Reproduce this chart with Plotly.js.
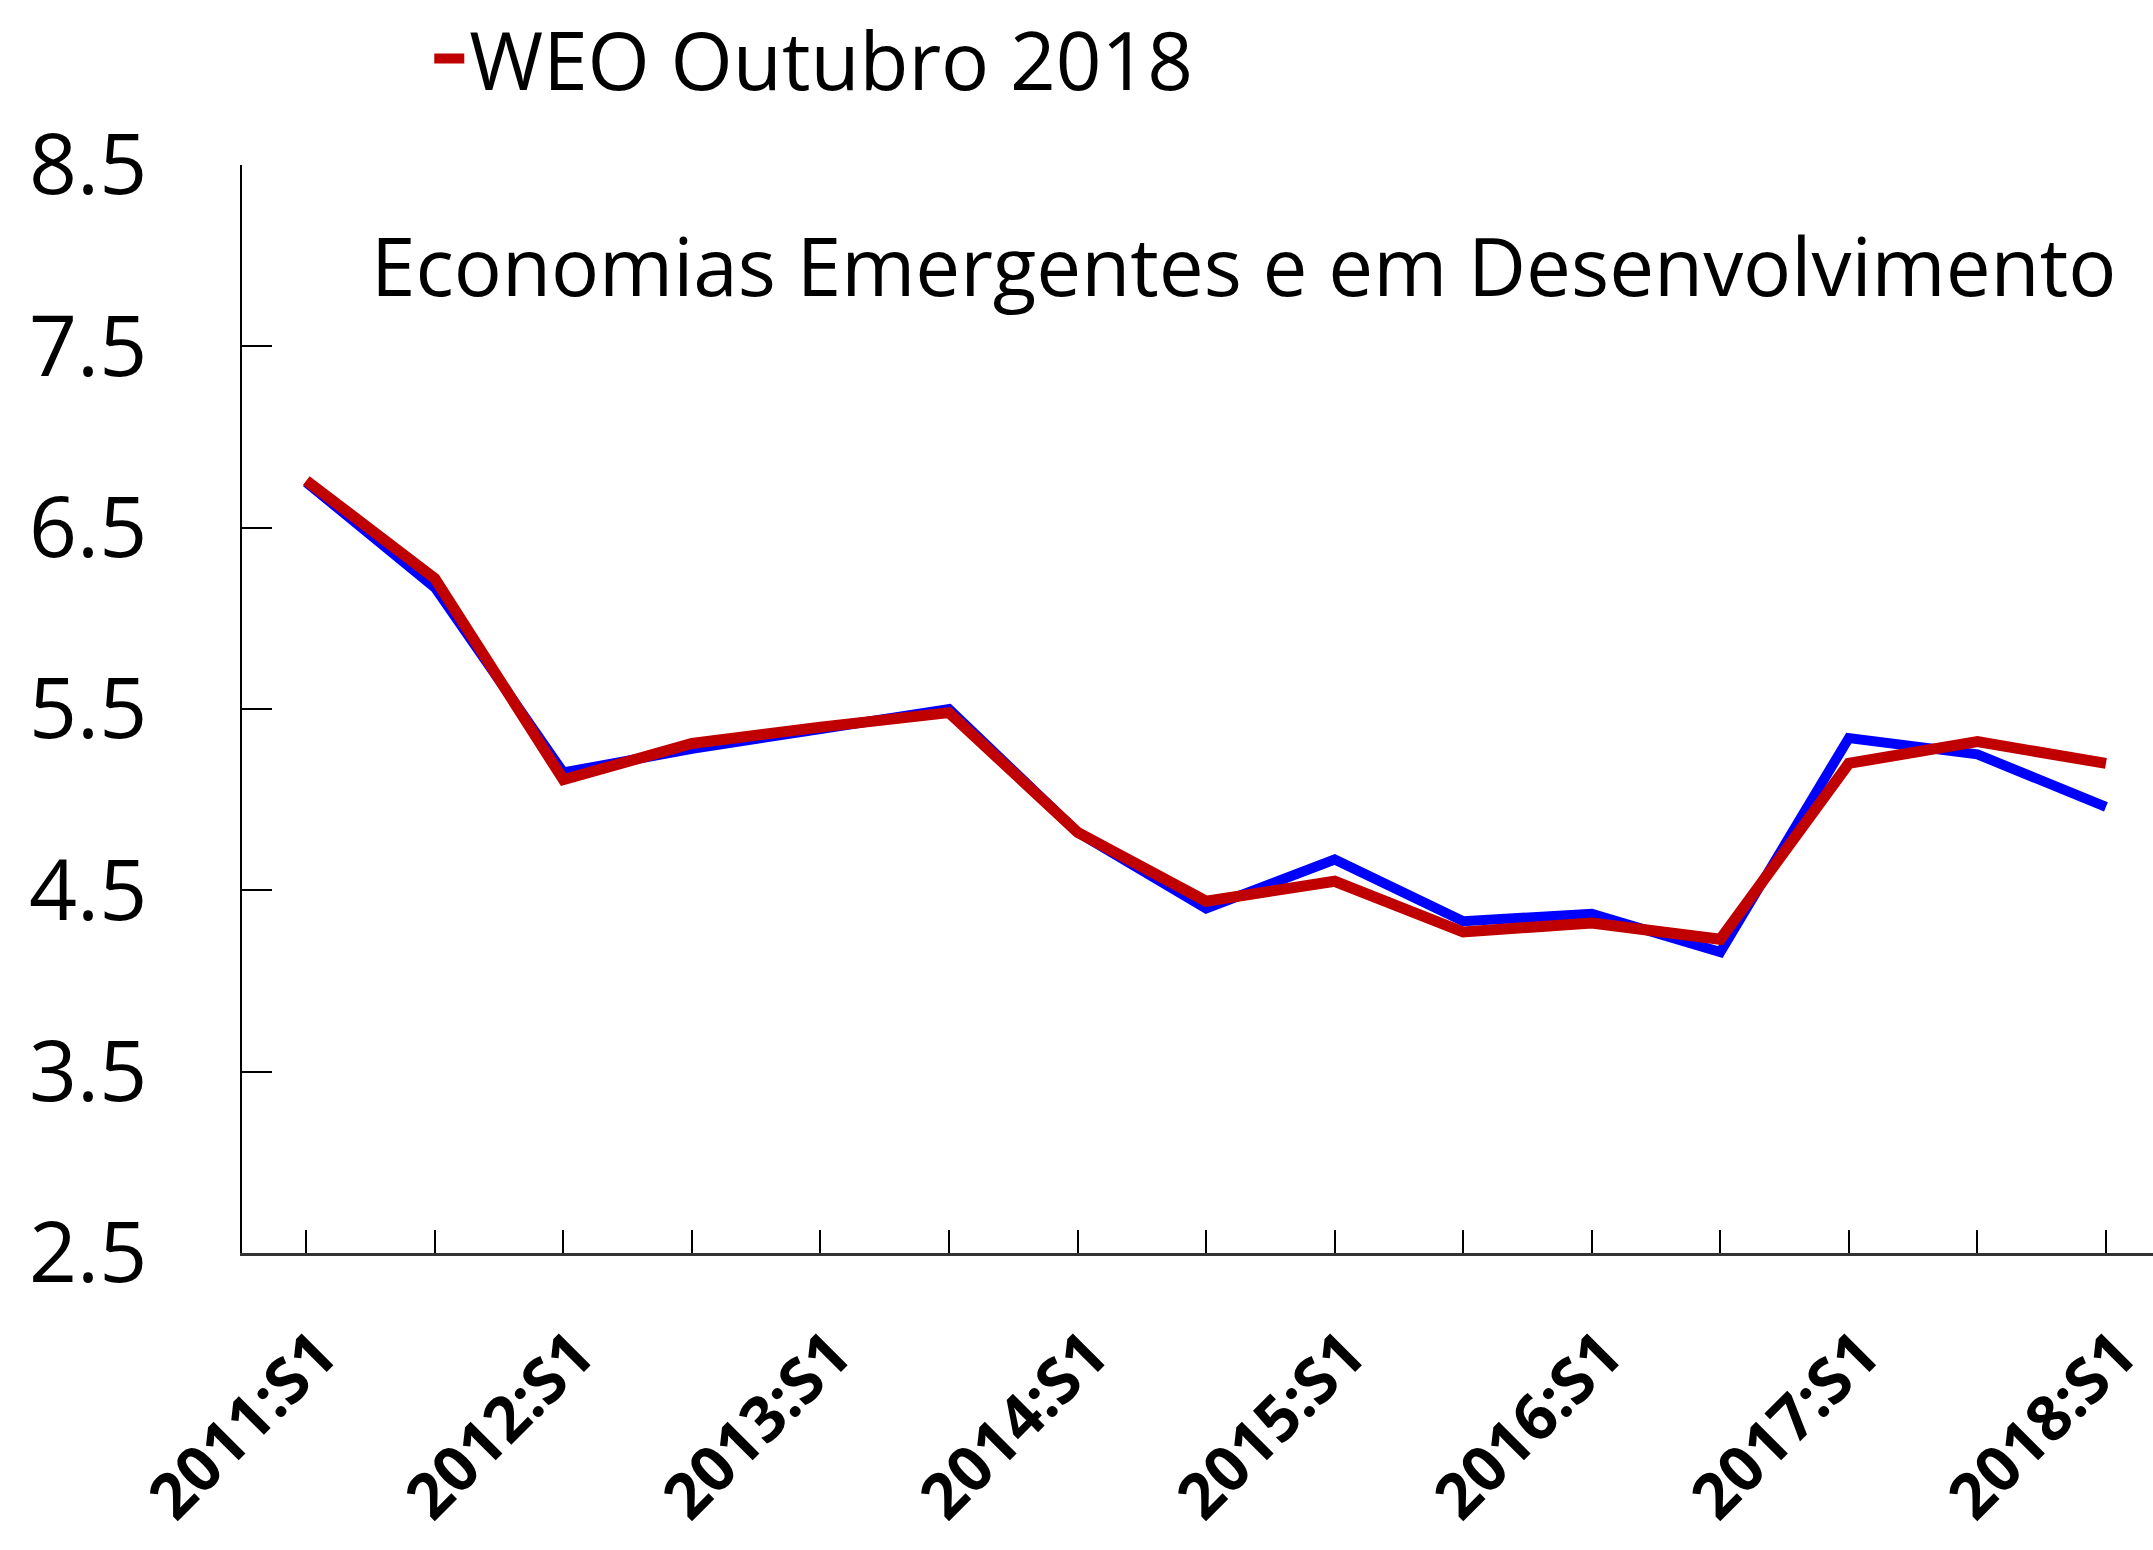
<!DOCTYPE html>
<html>
<head>
<meta charset="utf-8">
<script src="https://cdn.plot.ly/plotly-3.0.1.min.js"></script>
<style>
  html, body { margin: 0; padding: 0; background: #ffffff; }
  #chart { width: 2153px; height: 1550px; }
</style>
</head>
<body>
<div id="chart"></div>
<script>
// Semiannual periods
const categories = [
  "2011:S1", "2011:S2", "2012:S1", "2012:S2", "2013:S1", "2013:S2",
  "2014:S1", "2014:S2", "2015:S1", "2015:S2", "2016:S1", "2016:S2",
  "2017:S1", "2017:S2", "2018:S1"
];
// Tick labels (every other period is labelled)
const tickLabels = [
  "2011:S1", "", "2012:S1", "", "2013:S1", "",
  "2014:S1", "", "2015:S1", "", "2016:S1", "",
  "2017:S1", "", "2018:S1"
];
// Earlier vintage (blue)
const seriesBlue = [6.75, 6.17, 5.15, 5.28, 5.39, 5.50, 4.82, 4.40, 4.67, 4.33, 4.37, 4.16, 5.34, 5.25, 4.96];
// WEO Outubro 2018 (red)
const seriesRed = [6.76, 6.22, 5.11, 5.31, 5.40, 5.48, 4.82, 4.44, 4.55, 4.27, 4.32, 4.23, 5.20, 5.32, 5.20];
const redName = "WEO Outubro 2018";
const chartTitle = "Economias Emergentes e em Desenvolvimento";
const yTicks = [2.5, 3.5, 4.5, 5.5, 6.5, 7.5, 8.5];

const FONT = "'Open Sans', 'Noto Sans', sans-serif";

const traces = [
  {
    x: categories, y: seriesBlue, type: "scatter", mode: "lines",
    name: "Outra série", showlegend: false,
    line: { color: "#0000FF", width: 10 }
  },
  {
    x: categories, y: seriesRed, type: "scatter", mode: "lines",
    name: redName, showlegend: true,
    line: { color: "#C00000", width: 11 }
  }
];

const layout = {
  width: 2153, height: 1550,
  paper_bgcolor: "#ffffff", plot_bgcolor: "#ffffff",
  margin: { l: 242, r: 0, t: 165, b: 297, pad: 0 },
  font: { family: FONT, color: "#000000" },
  showlegend: true,
  legend: {
    x: 0.098, xanchor: "left",
    y: 1.098, yanchor: "middle",
    orientation: "h",
    font: { family: FONT, size: 80, color: "#000000" },
    bgcolor: "rgba(0,0,0,0)",
    borderwidth: 0
  },
  xaxis: {
    type: "category",
    range: [-0.5, 14.366],
    tickmode: "array",
    tickvals: categories,
    ticktext: tickLabels,
    tickangle: -45,
    ticks: "inside", ticklen: 23, tickwidth: 2, tickcolor: "#000000",
    showline: true, linecolor: "#333333", linewidth: 3,
    showgrid: false, zeroline: false,
    tickfont: { family: FONT, size: 63, color: "#000000", weight: "bold" },
    ticklabelstandoff: 36,
    ticklabelshift: 12,
    fixedrange: true
  },
  yaxis: {
    range: [2.5, 8.5],
    tickmode: "array",
    tickvals: yTicks,
    ticktext: yTicks.map(v => v.toFixed(1)),
    ticks: "inside", ticklen: 30, tickwidth: 2, tickcolor: "#000000",
    showline: true, linecolor: "#000000", linewidth: 2,
    showgrid: false, zeroline: false,
    tickfont: { family: FONT, size: 84, color: "#000000" },
    ticklabelstandoff: 76,
    fixedrange: true
  },
  annotations: [
    {
      text: chartTitle,
      xref: "paper", yref: "paper",
      x: 0.0665, xanchor: "left",
      y: 0.909, yanchor: "middle",
      showarrow: false,
      font: { family: FONT, size: 80, color: "#000000" }
    }
  ]
};

Plotly.newPlot("chart", traces, layout, { displayModeBar: false, staticPlot: true });
</script>
</body>
</html>
